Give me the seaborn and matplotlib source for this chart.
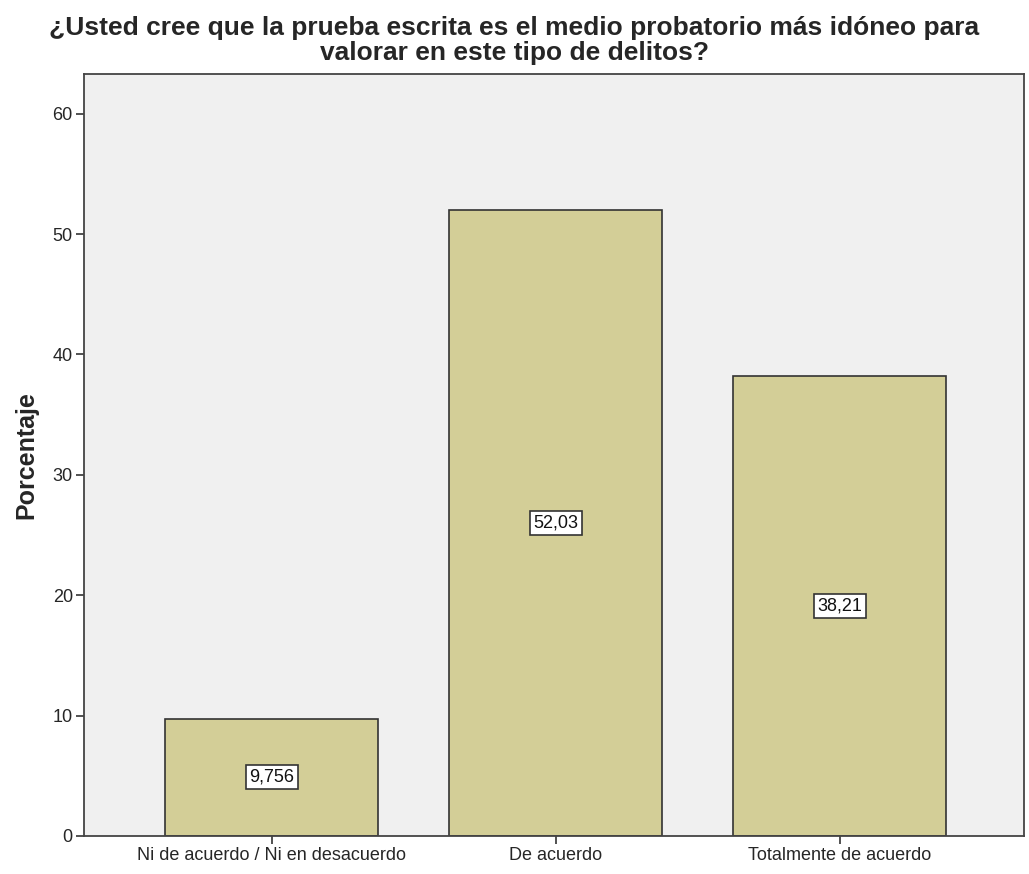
import matplotlib
matplotlib.use('Agg')
import matplotlib.pyplot as plt
import seaborn as sns
import pandas as pd

# Datos del gráfico
categorias = ['Ni de acuerdo / Ni en desacuerdo', 'De acuerdo', 'Totalmente de acuerdo']
porcentajes = [9.756, 52.03, 38.21]
etiquetas = ['9,756', '52,03', '38,21']

df = pd.DataFrame({'categoria': categorias, 'porcentaje': porcentajes})

sns.set_style('white')
plt.rcParams['font.family'] = ['Liberation Sans', 'DejaVu Sans']

fig = plt.figure(figsize=(10.29, 8.74), dpi=100)
ax = fig.add_axes([0.0816, 0.0435, 0.9134, 0.8718])
ax.set_facecolor('#f0f0f0')

sns.barplot(data=df, x='categoria', y='porcentaje', color='#d3ce97',
            saturation=1, width=0.75, edgecolor='#333333', linewidth=1.2, ax=ax)

# Etiquetas de valor en el centro de cada barra
for i, (v, t) in enumerate(zip(porcentajes, etiquetas)):
    ax.text(i, v / 2, t, ha='center', va='center', fontsize=13, color='#111111',
            bbox=dict(boxstyle='square,pad=0.2', facecolor='white', edgecolor='#333333', linewidth=1.2))

ax.set_xlim(-0.662, 2.648)
ax.set_ylim(0, 63.3)
ax.set_yticks([0, 10, 20, 30, 40, 50, 60])
ax.set_xlabel('')
ax.set_ylabel('Porcentaje', fontsize=18, fontweight='bold', labelpad=10)
ax.tick_params(axis='both', direction='out', length=6, width=1.2, color='#333333',
               labelsize=13, left=True, bottom=True, pad=2)
for s in ax.spines.values():
    s.set_color('#444444')
    s.set_linewidth(1.3)

fig.suptitle('¿Usted cree que la prueba escrita es el medio probatorio más idóneo para\nvalorar en este tipo de delitos?',
             fontsize=19, fontweight='bold', y=0.982, linespacing=1.08)

fig.savefig('out.png', dpi=100)
